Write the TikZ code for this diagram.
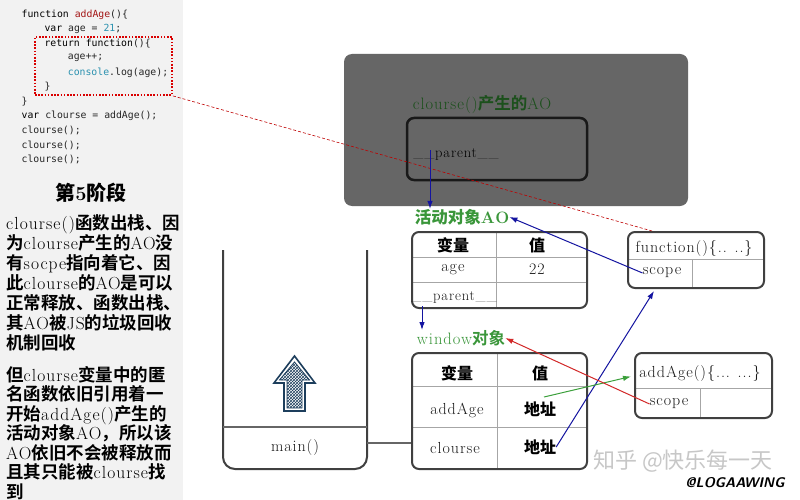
\documentclass[tikz,border=0pt]{standalone}
\usepackage{fontspec}
\setmainfont{Latin Modern Roman}[LetterSpace=6]
\setmonofont{DejaVu Sans Mono}
\newfontfamily\cjk{Noto Sans CJK SC Bold}
\newfontfamily\wmfont{Noto Sans CJK SC}
\usetikzlibrary{arrows.meta,patterns,calc}
\XeTeXinterchartokenstate=1
\newXeTeXintercharclass\CJKcls
\makeatletter
\def\setcjkrange#1#2{\count@=#1\relax\loop\XeTeXcharclass\count@=\CJKcls\relax\ifnum\count@<#2\advance\count@ by 1\repeat}
\makeatother
\setcjkrange{"3000}{"303F}
\setcjkrange{"4E00}{"9FFF}
\setcjkrange{"FF00}{"FFEF}
\XeTeXinterchartoks 0 \CJKcls = {\cjk}
\XeTeXinterchartoks 4095 \CJKcls = {\cjk}
\XeTeXinterchartoks \CJKcls 0 = {\rmfamily}
\definecolor{panel}{RGB}{242,242,242}
\definecolor{codered}{RGB}{163,21,21}
\definecolor{codeteal}{RGB}{43,145,175}
\definecolor{boxgray}{RGB}{102,102,102}
\definecolor{darkgrn}{RGB}{28,80,28}
\definecolor{lblgrn}{RGB}{58,150,58}
\definecolor{arrblue}{RGB}{20,20,160}
\definecolor{arrgrn}{RGB}{60,160,60}
\definecolor{arrred}{RGB}{210,40,40}
\definecolor{navy}{RGB}{29,62,92}
\tikzset{
 codeline/.style={anchor=west, inner sep=0pt, text=black!85, font=\fontsize{9.8}{12}\ttfamily},
 lbl/.style={inner sep=0pt, text=black!90, font=\fontsize{16}{18}\selectfont},
 hdr/.style={inner sep=0pt, text=black, font=\fontsize{16}{18}\selectfont\bfseries},
 ptext/.style={anchor=base west, inner sep=0pt, text=black, font=\fontsize{17.5}{20}\selectfont},
 tblbox/.style={draw=black!75, line width=2pt, rounded corners=7pt, inner sep=0pt},
 cellline/.style={draw=black!35, line width=0.8pt},
 bluearr/.style={draw=arrblue, line width=1pt, -{Latex[length=8pt,width=5.5pt]}},
 grnarr/.style={draw=arrgrn, line width=1pt, -{Latex[length=8pt,width=5.5pt]}},
 redarr/.style={draw=arrred, line width=1pt, -{Latex[length=8pt,width=5.5pt]}},
 stackline/.style={draw=black!75, line width=2pt},
}
\begin{document}
\begin{tikzpicture}[x=1pt,y=-1pt]
\useasboundingbox (0,0) rectangle (800,500);
\fill[white] (0,0) rectangle (800,500);
% left panel
\fill[panel] (0,0) rectangle (183,500);
% code
\node[codeline] (c1) at (21.5,15) {\textcolor{black}{function} \textcolor{codered}{addAge}()\{};
\node[codeline] (c2) at (44.3,29.3) {\textcolor{black}{var} age = \textcolor{codeteal}{21};};
\node[codeline] (c3) at (44.3,43.7) {\textcolor{black}{return function}()\{};
\node[codeline] (c4) at (67.7,58) {age++;};
\node[codeline] (c5) at (67.7,72.5) {\textcolor{codeteal}{console}.log(age);};
\node[codeline] (c6) at (44.3,87) {\}};
\node[codeline] (c7) at (21.5,101.5) {\}};
\node[codeline] (c8) at (21.5,116) {\textcolor{black}{var} clourse = addAge();};
\node[codeline] (c9) at (21.5,130.5) {clourse();};
\node[codeline] (c10) at (21.5,145) {clourse();};
\node[codeline] (c11) at (21.5,159.5) {clourse();};
\node[draw=red!85!black, line width=1.8pt, dash pattern=on 1.6pt off 1.6pt, minimum width=137, minimum height=58, inner sep=0pt] (dotbox) at (103.5,66) {};
% left text
\node[inner sep=0pt, anchor=base, font=\fontsize{20}{22}\selectfont\bfseries] (title) at (91,200) {第5阶段};
\foreach \t [count=\i] in {clourse()函数出栈、因,为clourse产生的AO没,有socpe指向着它、因,此clourse的AO是可以,正常释放、函数出栈、,其AO被JS的垃圾回收,机制回收}
  {\node[ptext] (pa\i) at (6,{209+20*\i}) {\t};}
\foreach \t [count=\i] in {但clourse变量中的匿,名函数依旧引用着一,开始addAge()产生的,活动对象AO，所以该,AO依旧不会被释放而,且其只能被clourse找,到}
  {\node[ptext] (pb\i) at (6,{361.5+19.5*\i}) {\t};}
% gray box
\node[fill=boxgray, rounded corners=8pt, minimum width=344, minimum height=152, inner sep=0pt] (graybox) at (516,130) {};
\node[inner sep=0pt, text=darkgrn, font=\fontsize{16.5}{18}\selectfont] (aotitle) at (482,105) {clourse()产生的AO};
\node[draw=black!90, line width=2.5pt, rounded corners=7pt, minimum width=180, minimum height=62, inner sep=0pt] (innerbox) at (497,149) {};
\node[lbl, text=black, font=\fontsize{14.5}{16}\selectfont] (gparent) at (456,154) {\_\_parent\_\_};
% labels
\node[inner sep=0pt, text=lblgrn, font=\fontsize{16.5}{18}\selectfont\bfseries] (aolabel) at (462,217) {活动对象AO};
\node[inner sep=0pt, text=lblgrn, font=\fontsize{16.5}{18}\selectfont] (winlabel) at (461,338) {window对象};
% table 1
\draw[cellline] (496,232) -- (496,308);
\draw[cellline] (412,257) -- (587,257);
\draw[cellline] (412,282) -- (587,282);
\node[tblbox, minimum width=175, minimum height=76] (tab1) at (499.5,270) {};
\node[hdr] (t1h1) at (453,245) {变量};
\node[hdr] (t1h2) at (537,245) {值};
\node[lbl] (t1a) at (453,270) {age};
\node[lbl] (t1v) at (537,269) {22};
\node[lbl, font=\fontsize{14.5}{16}\selectfont] (t1p) at (454,297) {\_\_parent\_\_};
% table 2
\draw[cellline] (497,353) -- (497,469);
\draw[cellline] (412,386) -- (587,386);
\draw[cellline] (412,427) -- (587,427);
\node[tblbox, minimum width=175, minimum height=116] (tab2) at (499.5,411) {};
\node[hdr] (t2h1) at (457,373) {变量};
\node[hdr] (t2h2) at (540,373) {值};
\node[lbl] (t2a) at (457,410) {addAge};
\node[hdr] (t2av) at (540,409) {地址};
\node[lbl] (t2c) at (455,448) {clourse};
\node[hdr] (t2cv) at (540,447) {地址};
% function box
\draw[cellline] (628,259) -- (764,259);
\draw[cellline] (692,259) -- (692,288);
\node[tblbox, minimum width=136, minimum height=56] (fbox) at (696,260) {};
\node[lbl] (fhead) at (694,248) {function()\{.. ..\}};
\node[lbl] (fscope) at (662,273) {scope};
% addAge box
\draw[cellline] (635,388) -- (772,388);
\draw[cellline] (700,388) -- (700,418);
\node[tblbox, minimum width=137, minimum height=65] (abox) at (703.5,385.5) {};
\node[lbl] (ahead) at (700,373) {addAge()\{... ...\}};
\node[lbl] (ascope) at (669,404) {scope};
% dashed link
\draw[draw=red!75!black, line width=0.6pt, dash pattern=on 3pt off 2pt] (dotbox.south east) -- ($(fbox.north west)+(25,0)$);
% stack
\draw[stackline, rounded corners=12pt] (223,250) -- (223,469) -- (367,469) -- (367,250);
\draw[draw=black!60, line width=1.2pt] (223,427) -- (367,427);
\node[lbl, minimum width=144, minimum height=42] (maincell) at (295,448) {main()};
\coordinate (stk) at (367,443);
\draw[draw=black!60, line width=1.2pt] (stk) -- (stk -| tab2.west);
% hatched arrow icon
\draw[draw=navy, line width=1.6pt, fill=white, line join=miter] (294.5,356) -- (315,383) -- (305,383) -- (305,411) -- (284,411) -- (284,383) -- (274,383) -- cycle;
\fill[pattern=crosshatch, pattern color=navy] (294.5,362) -- (309.5,380) -- (302,380) -- (302,408) -- (287,408) -- (287,380) -- (279.5,380) -- cycle;
\draw[draw=navy, line width=0.8pt] (294.5,362) -- (309.5,380) -- (302,380) -- (302,408) -- (287,408) -- (287,380) -- (279.5,380) -- cycle;
% connectors
\coordinate (gp) at (430,150);
\draw[bluearr] (gp) -- (gp |- aolabel.north);
\coordinate (tp) at (422,306);
\draw[bluearr] (tp) -- (tp |- winlabel.north);
\draw[bluearr] (fscope.west) -- (aolabel.east);
\draw[bluearr] (t2cv.east) -- ($(fbox.south west)+(27,2)$);
\coordinate (ga) at (544,397);
\draw[grnarr] (ga) -- ($(abox.west)+(-3,-9)$);
\draw[redarr] (ascope.west) -- (winlabel.east);
% watermark
\node[inner sep=0pt, text=black!22, font=\fontsize{22}{24}\selectfont] (wm1) at (683,461) {\XeTeXinterchartokenstate=0\relax\wmfont 知乎 @快乐每一天};
\node[inner sep=0pt, text=black, font=\fontsize{14}{16}\sffamily\bfseries\itshape] (wm2) at (735,483) {@LOGAAWING};
\end{tikzpicture}
\end{document}
